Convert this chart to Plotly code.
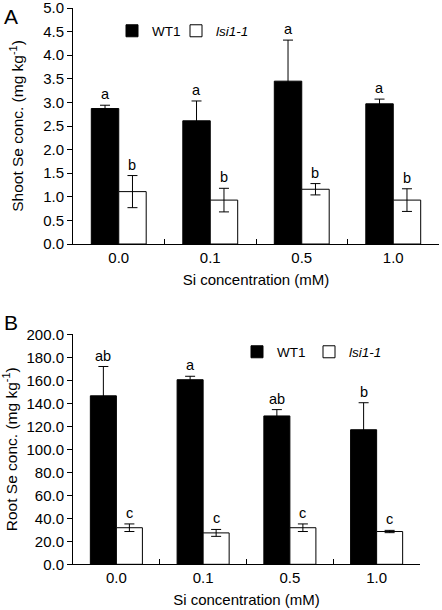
import plotly.graph_objects as go

# ---------------- data ----------------
si_levels = ["0.0", "0.1", "0.5", "1.0"]

shoot_wt = [2.87, 2.61, 3.45, 2.97]
shoot_wt_err = [0.07, 0.42, 0.87, 0.10]
shoot_lsi = [1.11, 0.93, 1.16, 0.93]
shoot_lsi_err = [0.34, 0.25, 0.12, 0.24]
shoot_wt_letters = ["a", "a", "a", "a"]
shoot_lsi_letters = ["b", "b", "b", "b"]
shoot_ticks = [0.0, 0.5, 1.0, 1.5, 2.0, 2.5, 3.0, 3.5, 4.0, 4.5, 5.0]

root_wt = [146.5, 160.5, 129.0, 117.0]
root_wt_err = [25.5, 3.0, 5.5, 23.5]
root_lsi = [31.8, 27.3, 31.8, 28.5]
root_lsi_err = [3.3, 3.0, 3.3, 1.0]
root_wt_letters = ["ab", "a", "ab", "b"]
root_lsi_letters = ["c", "c", "c", "c"]
root_ticks = [0, 20, 40, 60, 80, 100, 120, 140, 160, 180, 200]

FONT = "Liberation Sans, Arial, sans-serif"
W, H = 442, 610


def px_x(p):
    return p / W


def px_y(p):
    return 1 - p / H


fig = go.Figure()

err_style = dict(type="data", symmetric=True, color="black", thickness=1, width=5)
black = dict(color="black", line=dict(color="black", width=1))
white = dict(color="white", line=dict(color="black", width=1))

# Panel A
fig.add_trace(go.Bar(x=si_levels, y=shoot_wt, name="WT1", marker=black,
                     error_y=dict(array=shoot_wt_err, **err_style),
                     xaxis="x", yaxis="y", legend="legend2"))
fig.add_trace(go.Bar(x=si_levels, y=shoot_lsi, name="<i>lsi1-1</i>", marker=white,
                     error_y=dict(array=shoot_lsi_err, **err_style),
                     xaxis="x", yaxis="y", legend="legend3"))
# Panel B
fig.add_trace(go.Bar(x=si_levels, y=root_wt, name="WT1", marker=black,
                     error_y=dict(array=root_wt_err, **err_style),
                     xaxis="x2", yaxis="y2", legend="legend4"))
fig.add_trace(go.Bar(x=si_levels, y=root_lsi, name="<i>lsi1-1</i>", marker=white,
                     error_y=dict(array=root_lsi_err, **err_style),
                     xaxis="x2", yaxis="y2", legend="legend5"))

BARGAP = 0.4
half = (1 - BARGAP) / 4  # offset of each bar centre from category centre

annotations = []
for i in range(len(si_levels)):
    annotations.append(dict(x=i - half, y=shoot_wt[i] + shoot_wt_err[i], xref="x", yref="y",
                            text=shoot_wt_letters[i], showarrow=False, yanchor="bottom", yshift=1))
    annotations.append(dict(x=i + half, y=shoot_lsi[i] + shoot_lsi_err[i], xref="x", yref="y",
                            text=shoot_lsi_letters[i], showarrow=False, yanchor="bottom", yshift=1))
    annotations.append(dict(x=i - half, y=root_wt[i] + root_wt_err[i], xref="x2", yref="y2",
                            text=root_wt_letters[i], showarrow=False, yanchor="bottom", yshift=1))
    annotations.append(dict(x=i + half, y=root_lsi[i] + root_lsi_err[i], xref="x2", yref="y2",
                            text=root_lsi_letters[i], showarrow=False, yanchor="bottom", yshift=1))
for a in annotations:
    a["font"] = dict(size=14.5, color="black", family=FONT)

annotations += [
    dict(x=px_x(2), y=px_y(3), xref="paper", yref="paper", text="A", showarrow=False,
         xanchor="left", yanchor="top", font=dict(size=21, color="black", family=FONT)),
    dict(x=px_x(2), y=px_y(309), xref="paper", yref="paper", text="B", showarrow=False,
         xanchor="left", yanchor="top", font=dict(size=21, color="black", family=FONT)),
]

xax = dict(type="category", categoryorder="array", categoryarray=si_levels,
           tickson="boundaries", ticks="inside", ticklen=5, tickcolor="black",
           showline=True, linecolor="black", linewidth=1, showgrid=False,
           tickfont=dict(size=15, color="black", family=FONT), fixedrange=True,
           title=dict(text="Si concentration (mM)", font=dict(size=15, color="black", family=FONT),
                      standoff=9),
           automargin=False)
yax = dict(ticks="outside", ticklen=5, tickcolor="black", showline=True, linecolor="black",
           linewidth=1, showgrid=False, zeroline=False, tickmode="array",
           ticklabeloverflow="allow", fixedrange=True,
           tickfont=dict(size=15, color="black", family=FONT), automargin=False)


def legend_at(x_px, y_px):
    return dict(orientation="h", x=px_x(x_px), y=px_y(y_px), xanchor="left", yanchor="middle",
                bgcolor="rgba(0,0,0,0)", font=dict(size=13.5, color="black", family=FONT),
                itemclick=False, itemdoubleclick=False)


fig.update_layout(
    width=W, height=H,
    margin=dict(l=0, r=0, t=0, b=0),
    paper_bgcolor="white", plot_bgcolor="white",
    barmode="group", bargap=BARGAP, bargroupgap=0,
    font=dict(family=FONT, color="black"),
    xaxis=dict(domain=[px_x(73), px_x(439)], anchor="y", **xax),
    yaxis=dict(domain=[px_y(244), px_y(8)], anchor="x", range=[0, 5],
               tickvals=shoot_ticks, ticktext=[f"{v:.1f}" for v in shoot_ticks],
               title=dict(text="Shoot Se conc. (mg kg<sup>-1</sup>)",
                          font=dict(size=15.5, color="black", family=FONT), standoff=15),
               **yax),
    xaxis2=dict(domain=[px_x(73), px_x(420)], anchor="y2", **xax),
    yaxis2=dict(domain=[px_y(564.3), px_y(334.3)], anchor="x2", range=[0, 200],
                tickvals=root_ticks, ticktext=[f"{v:.1f}" for v in root_ticks],
                title=dict(text="Root Se conc. (mg kg<sup>-1</sup>)",
                           font=dict(size=15.5, color="black", family=FONT), standoff=5),
                **yax),
    showlegend=True,
    legend2=legend_at(112, 31),
    legend3=legend_at(176, 31),
    legend4=legend_at(237, 352),
    legend5=legend_at(309, 352),
    annotations=annotations,
)

fig.write_html("out.html", config={"displayModeBar": False},
               post_script="document.body.style.margin='0px';")
